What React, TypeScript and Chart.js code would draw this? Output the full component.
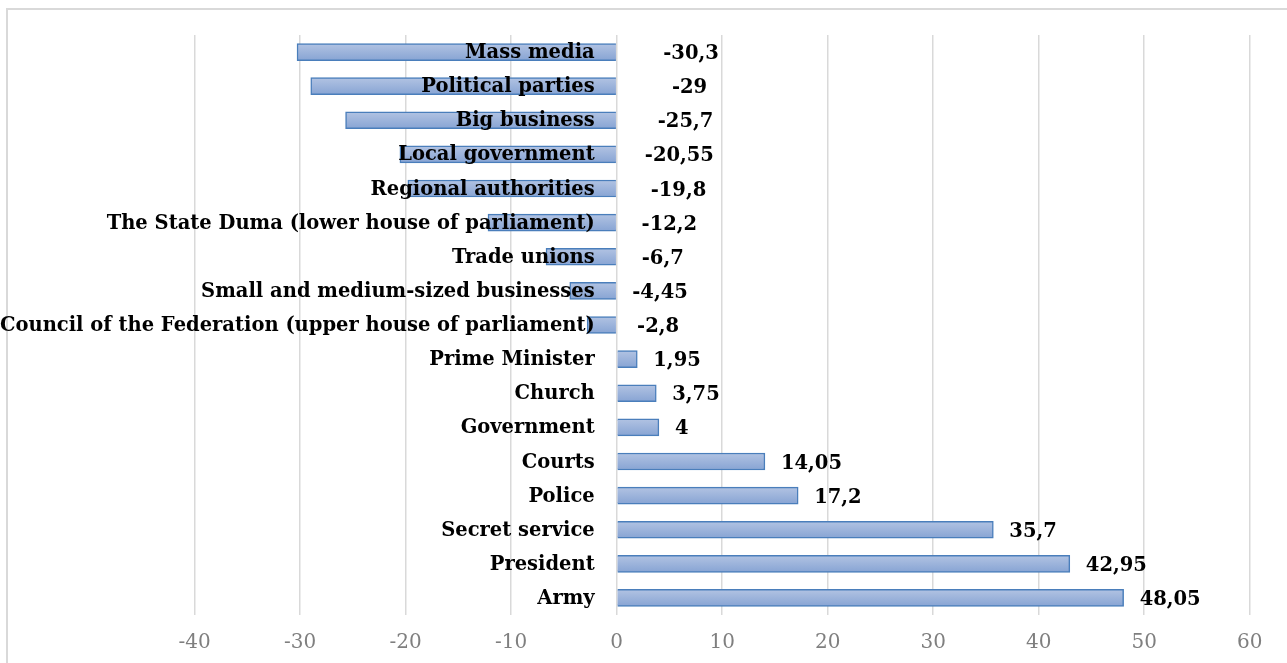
import React, { useEffect, useRef } from "react";
import { Chart, registerables } from "chart.js";

Chart.register(...registerables);

const categories: string[] = [
  "Mass media",
  "Political parties",
  "Big business",
  "Local government",
  "Regional authorities",
  "The State Duma (lower house of parliament)",
  "Trade unions",
  "Small and medium-sized businesses",
  "Council of the Federation (upper house of parliament)",
  "Prime Minister",
  "Church",
  "Government",
  "Courts",
  "Police",
  "Secret service",
  "President",
  "Army",
];

const values: number[] = [
  -30.3, -29, -25.7, -20.55, -19.8, -12.2, -6.7, -4.45, -2.8, 1.95, 3.75, 4,
  14.05, 17.2, 35.7, 42.95, 48.05,
];

const xMin = -40;
const xMax = 60;
const xStep = 10;

const SERIF = "'DejaVu Serif', 'Liberation Serif', serif";

const labelPlugin = {
  id: "customLabels",
  afterDatasetsDraw(chart: any) {
    const ctx = chart.ctx;
    const xs = chart.scales.x;
    const ys = chart.scales.y;
    const x0 = xs.getPixelForValue(0);
    ctx.save();
    ctx.fillStyle = "#000000";
    ctx.textBaseline = "middle";
    ctx.font = `bold 19.5px ${SERIF}`;
    categories.forEach((c, i) => {
      const y = ys.getPixelForValue(i);
      ctx.textAlign = "right";
      ctx.fillText(c, x0 - 22, y + 1);
    });
    values.forEach((v, i) => {
      const y = ys.getPixelForValue(i);
      const txt = String(v).replace(".", ",");
      if (v >= 0) {
        ctx.textAlign = "left";
        ctx.fillText(txt, xs.getPixelForValue(v) + 16, y + 2);
      } else {
        ctx.textAlign = "center";
        ctx.fillText(txt, x0 + 38 + 1.2 * Math.abs(v), y + 2);
      }
    });
    ctx.restore();
  },
};

export default function App() {
  const ref = useRef<HTMLCanvasElement | null>(null);
  useEffect(() => {
    if (!ref.current) return;
    const chart = new Chart(ref.current, {
      type: "bar",
      data: {
        labels: categories,
        datasets: [
          {
            data: values,
            backgroundColor: (context: any) => {
              const ch = context.chart;
              const ys = ch.scales?.y;
              if (!ys || !ch.chartArea) return "#a4b8de";
              const yc = ys.getPixelForValue(context.dataIndex);
              const g = ch.ctx.createLinearGradient(0, yc - 9, 0, yc + 9);
              g.addColorStop(0, "#b3c4e3");
              g.addColorStop(1, "#86a3d3");
              return g;
            },
            borderColor: "#4a7ebb",
            borderWidth: 1.5,
            barThickness: 17,
          },
        ],
      },
      options: {
        indexAxis: "y",
        responsive: false,
        animation: false,
        devicePixelRatio: 1,
        layout: { padding: { left: 194.7, right: 37.3, top: 35, bottom: -8 } },
        plugins: {
          legend: { display: false },
          tooltip: { enabled: false },
        },
        scales: {
          x: {
            type: "linear",
            min: xMin,
            max: xMax,
            ticks: {
              stepSize: xStep,
              color: "#7f7f7f",
              padding: 16,
              font: { family: SERIF, size: 20 },
            },
            grid: { color: "#d9d9d9", lineWidth: 1.5, drawTicks: false },
            border: { display: false },
          },
          y: {
            display: false,
            grid: { display: false },
          },
        },
      },
      plugins: [labelPlugin],
    });
    return () => chart.destroy();
  }, []);
  return (
    <>
      <div
        style={{
          position: "fixed",
          left: 6,
          top: 8,
          width: 1290,
          height: 680,
          border: "2px solid #d9d9d9",
          boxSizing: "border-box",
          background: "#ffffff",
        }}
      />
      <canvas
        ref={ref}
        width={1287}
        height={663}
        style={{ position: "fixed", left: 0, top: 0, width: 1287, height: 663 }}
      />
    </>
  );
}
